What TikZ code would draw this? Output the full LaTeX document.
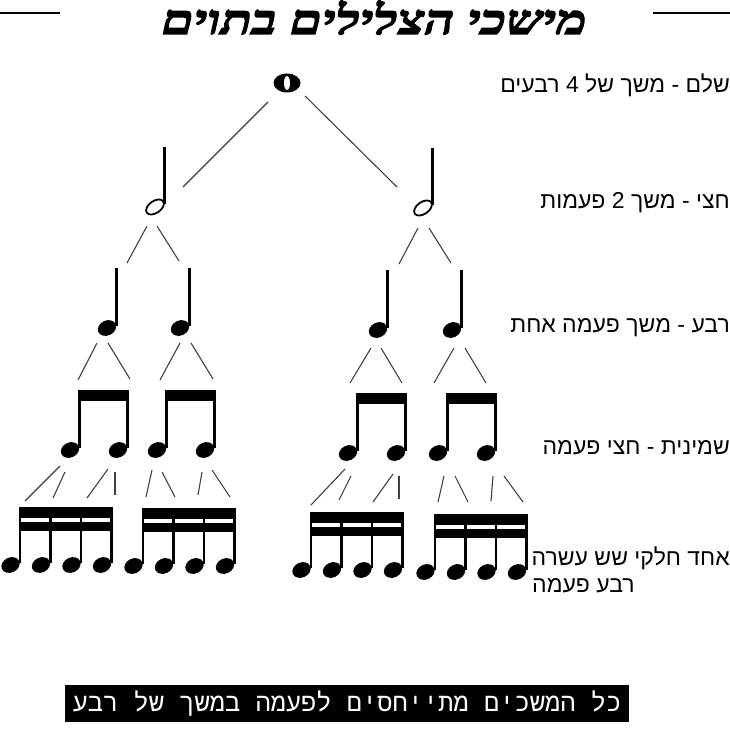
\documentclass[tikz,border=0pt]{standalone}
\usepackage{fontspec}
\TeXXeTstate=1
\newfontfamily\hebfont[Script=Hebrew]{Liberation Sans}
\newfontfamily\hebtitle[Script=Hebrew,FakeSlant=0.22,FakeBold=3,FakeStretch=1.26]{Liberation Serif}
\newfontfamily\hebmono[Script=Hebrew]{Liberation Mono}

\begin{document}
\begin{tikzpicture}[
    x=1pt, y=-1pt,
    notestem/.style={line width=2.2pt, black},
    branch/.style={line width=1.1pt, black!75},
    rule/.style={line width=2pt, black},
    durlabel/.style={font=\hebfont\fontsize{23}{25}\selectfont, inner sep=0pt},
    pics/wholenote/.style={code={
        \fill[even odd rule] (0,0) ellipse [x radius=13.5, y radius=9.5]
            (0,0) ellipse [x radius=3.2, y radius=7];
    }},
    pics/halfnote/.style={code={
        \draw[line width=1.8pt, rotate=35] (0,0) ellipse [x radius=10, y radius=6];
        \draw[notestem] (9.5,-3) -- (9.5,-60);
    }},
    pics/quarternote/.style={code={
        \fill[rotate=25] (0,0) ellipse [x radius=9.5, y radius=7.5];
        \draw[notestem] (9.5,-2) -- (9.5,-60);
    }},
    pics/eighthpair/.style={code={
        \foreach \i in {0,1} {
            \fill[shift={(48*\i,0)}, rotate=25] (0,0) ellipse [x radius=9.5, y radius=7.5];
            \draw[notestem] (48*\i+9.5,-2) -- (48*\i+9.5,-60);
        }
        \fill (8.4,-60) rectangle (58.6,-49);
    }},
    pics/sixteenthgroup/.style={code={
        \foreach \i in {0,...,3} {
            \fill[shift={(30.5*\i,0)}, rotate=25] (0,0) ellipse [x radius=9.5, y radius=7.5];
            \draw[notestem] (30.5*\i+9.5,-2) -- (30.5*\i+9.5,-58);
        }
        \fill (8.4,-58) rectangle (102.1,-47);
        \fill (8.4,-43) rectangle (102.1,-34);
    }}
]
    \useasboundingbox (0,0) rectangle (730,730);

    % title
    \node[font=\hebtitle\bfseries\fontsize{41}{45}\selectfont, anchor=base, inner sep=0pt]
        (title) at (371.5,34) {\beginR מישכי הצלילים בתוים\endR};
    \draw[rule] (0,13) -- (60,13);
    \draw[rule] (653,13) -- (730,13);

    % notes
    \pic at (287,83) {wholenote};
    \pic at (155,207) {halfnote};
    \pic at (423,208) {halfnote};
    \foreach \x/\y in {107/328, 180/328, 378/330, 452/330}
        \pic at (\x,\y) {quarternote};
    \foreach \x/\y in {70/450, 157/450, 348/453, 438/453}
        \pic at (\x,\y) {eighthpair};
    \foreach \x/\y in {10.5/565, 133.5/566, 301.5/570, 425.5/572}
        \pic at (\x,\y) {sixteenthgroup};

    % branches
    \foreach \n/\ax/\ay/\bx/\by in {
        wl/268/102/183/187, wr/305/96/397/187,
        h1l/147/226/127/263, h1r/157/226/179/261,
        h2l/418/228/399/264, h2r/429/228/451/263,
        q1l/97/343/78/380, q1r/108/343/130/379,
        q2l/180/343/160/380, q2r/191/343/213/379,
        q3l/371/348/350/383, q3r/381/348/402/383,
        q4l/454/348/434/383, q4r/465/348/486/383,
        e1a/60/466/25/501, e1b/65/472/53/498, e1c/108/469/87/498, e1d/115/472/115/495,
        e2a/152/470/146/497, e2b/162/472/175/497, e2c/202/472/198/495, e2d/212/470/230/497,
        e3a/345/469/311/505, e3b/351/476/339/500, e3c/393/474/373/502, e3d/399/476/399/499,
        e4a/444/476/438/502, e4b/455/476/468/502, e4c/493/476/491/501, e4d/504/476/523/502} {
        \coordinate (\n-a) at (\ax,\ay);
        \coordinate (\n-b) at (\bx,\by);
        \draw[branch] (\n-a) -- (\n-b);
    }

    % duration labels
    \node[durlabel, anchor=base east] (whole-lbl) at (730,93) {\beginR שלם - משך של 4 רבעים\endR};
    \node[durlabel, anchor=base east] (half-lbl) at (730,208) {\beginR חצי - משך 2 פעמות\endR};
    \node[durlabel, anchor=base east] (quarter-lbl) at (730,332) {\beginR רבע - משך פעמה אחת\endR};
    \node[durlabel, anchor=base east] (eighth-lbl) at (730,454) {\beginR שמינית - חצי פעמה\endR};
    \node[durlabel, anchor=base east] (sixteenth-lbl) at (730,565) {\beginR אחד חלקי שש עשרה\endR};
    \node[durlabel, anchor=base west] (sixteenth-lbl2) at (532,592) {\beginR רבע פעמה\endR};

    % footnote box
    \node[fill=black, text=white, minimum width=564pt, minimum height=37pt, inner sep=0pt,
        font=\hebmono\fontsize{25.4}{28}\selectfont] (footnote) at (347,703.5)
        {\beginR כל המשכים מתייחסים לפעמה במשך של רבע\endR};
\end{tikzpicture}
\end{document}
